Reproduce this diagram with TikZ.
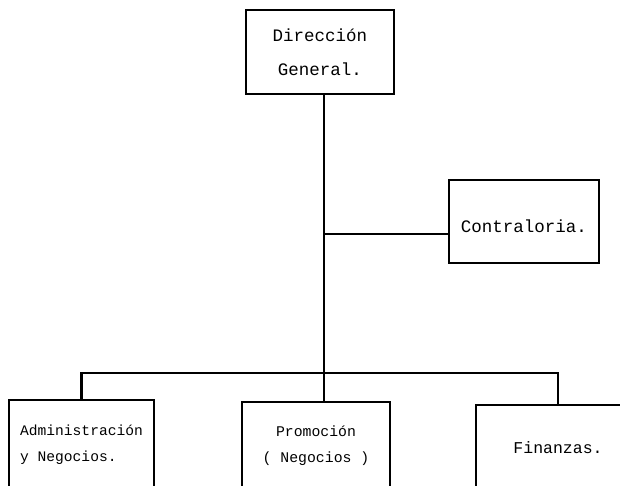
\documentclass[tikz,border=0pt]{standalone}
\usepackage{fontspec}
\setmonofont{Liberation Mono}
\usetikzlibrary{positioning}
\tikzset{
  caja/.style={draw, line width=2.2pt, inner sep=0pt, font=\ttfamily\fontsize{17.5}{26}\selectfont},
  linea/.style={line width=2.2pt},
}
\begin{document}
\begin{tikzpicture}[x=1pt,y=-1pt]
		\clip (0,0) rectangle (620,485);
		\fill[white] (0,0) rectangle (620,485);
		%Cajas
		\node[caja, minimum width=148, minimum height=84, align=center, font=\ttfamily\fontsize{17.5}{34}\selectfont] (dir) at (320,52) {Dirección\\General.};
		\node[caja, minimum width=150, minimum height=83, text height=26pt, text depth=4pt] (contra) at (524,221.5) {Contraloria.};
		\node[caja, minimum width=145, minimum height=90, align=left, font=\ttfamily\fontsize{14.6}{26}\selectfont] (admin) at (81.5,445) {Administración\\y Negocios.};
		\node[caja, minimum width=148, minimum height=88, align=center, font=\ttfamily\fontsize{14.8}{26}\selectfont] (promo) at (316,446) {Promoción\\( Negocios )};
		\node[caja, minimum width=164, minimum height=85, font=\ttfamily\fontsize{16.5}{26}\selectfont] (finan) at (558,447.5) {Finanzas.};
		%Lineas
		\coordinate (eje) at (324,234);
		\coordinate (barra) at (324,373);
		\draw[linea] (dir.south -| eje) -- (barra);
		\draw[linea] (eje) -- (eje -| contra.west);
		\draw[linea] (admin.north) |- (barra) -| (finan.north);
		\draw[linea] (barra) -- (barra |- promo.north);
\end{tikzpicture}
\end{document}
